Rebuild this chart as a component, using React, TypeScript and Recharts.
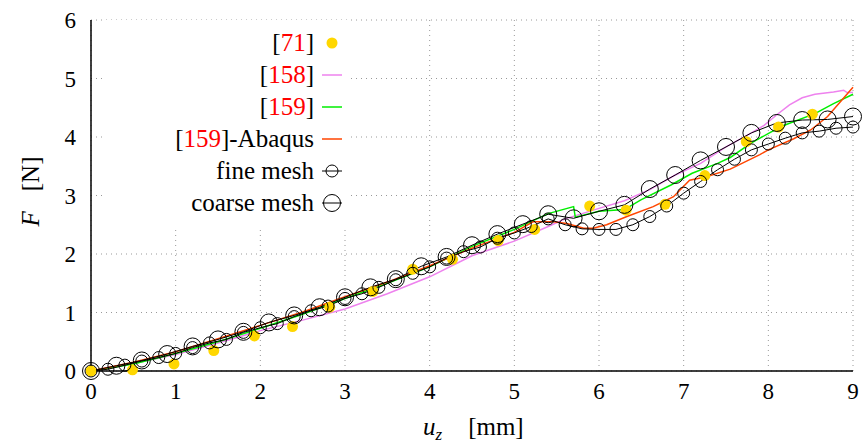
import React from 'react';
import {
  ComposedChart,
  Line,
  XAxis,
  YAxis,
  CartesianGrid,
  Legend,
  Label,
} from 'recharts';

// [71] experiment points
const ref71 = [
  { x: 0, y: 0 }, { x: 0.49, y: 0.02 }, { x: 0.98, y: 0.12 }, { x: 1.45, y: 0.35 },
  { x: 1.93, y: 0.6 }, { x: 2.38, y: 0.76 }, { x: 2.82, y: 1.09 }, { x: 3.33, y: 1.36 },
  { x: 3.8, y: 1.74 }, { x: 4.27, y: 1.91 }, { x: 4.81, y: 2.23 }, { x: 5.24, y: 2.42 },
  { x: 5.89, y: 2.82 }, { x: 6.32, y: 2.75 }, { x: 6.78, y: 2.85 }, { x: 7.25, y: 3.34 },
  { x: 7.74, y: 3.92 }, { x: 8.12, y: 4.17 }, { x: 8.52, y: 4.39 },
];

const ref158 = [
  { x: 0, y: 0 }, { x: 0.5, y: 0.13 }, { x: 1, y: 0.28 }, { x: 1.5, y: 0.48 },
  { x: 2, y: 0.69 }, { x: 2.5, y: 0.87 }, { x: 3, y: 1.06 }, { x: 3.5, y: 1.32 },
  { x: 4, y: 1.61 }, { x: 4.5, y: 1.97 }, { x: 5, y: 2.22 }, { x: 5.4, y: 2.47 },
  { x: 5.6, y: 2.6 }, { x: 6.0, y: 2.78 }, { x: 6.3, y: 2.91 }, { x: 6.6, y: 3.1 },
  { x: 6.9, y: 3.35 }, { x: 7.2, y: 3.55 }, { x: 7.5, y: 3.83 }, { x: 7.8, y: 4.07 },
  { x: 7.95, y: 4.2 }, { x: 8.1, y: 4.38 }, { x: 8.25, y: 4.55 }, { x: 8.4, y: 4.67 },
  { x: 8.55, y: 4.73 }, { x: 8.77, y: 4.77 }, { x: 8.89, y: 4.8 }, { x: 8.93, y: 4.76 },
  { x: 9.0, y: 4.76 },
];

const ref159 = [
  { x: 0, y: 0 }, { x: 0.5, y: 0.12 }, { x: 1, y: 0.3 }, { x: 1.5, y: 0.5 },
  { x: 2, y: 0.73 }, { x: 2.5, y: 0.97 }, { x: 3, y: 1.24 }, { x: 3.5, y: 1.5 },
  { x: 4, y: 1.78 }, { x: 4.5, y: 2.13 }, { x: 5, y: 2.42 }, { x: 5.4, y: 2.69 },
  { x: 5.7, y: 2.81 }, { x: 5.72, y: 2.63 }, { x: 6.0, y: 2.73 }, { x: 6.3, y: 2.76 },
  { x: 6.5, y: 2.93 }, { x: 6.85, y: 3.18 }, { x: 7.1, y: 3.38 }, { x: 7.4, y: 3.55 },
  { x: 7.55, y: 3.65 }, { x: 7.8, y: 3.9 }, { x: 8.15, y: 4.18 }, { x: 8.55, y: 4.4 },
  { x: 8.77, y: 4.57 }, { x: 9.0, y: 4.73 },
];

const ref159Abaqus = [
  { x: 0, y: 0 }, { x: 0.5, y: 0.15 }, { x: 1, y: 0.33 }, { x: 1.5, y: 0.55 },
  { x: 2, y: 0.78 }, { x: 2.5, y: 1.01 }, { x: 3, y: 1.27 }, { x: 3.5, y: 1.52 },
  { x: 4, y: 1.8 }, { x: 4.5, y: 2.1 }, { x: 5, y: 2.37 }, { x: 5.22, y: 2.55 },
  { x: 5.46, y: 2.55 }, { x: 5.62, y: 2.52 }, { x: 5.82, y: 2.44 }, { x: 5.93, y: 2.44 },
  { x: 6.09, y: 2.5 }, { x: 6.33, y: 2.64 }, { x: 6.64, y: 2.81 }, { x: 6.88, y: 2.98 },
  { x: 7.07, y: 3.26 }, { x: 7.27, y: 3.32 }, { x: 7.55, y: 3.45 }, { x: 7.9, y: 3.7 },
  { x: 8.0, y: 3.78 }, { x: 8.3, y: 3.97 }, { x: 8.5, y: 4.12 }, { x: 8.7, y: 4.35 },
  { x: 9.0, y: 4.85 },
];

const fineMesh = [
  { x: 0, y: 0 }, { x: 0.2, y: 0.03 }, { x: 0.4, y: 0.1 }, { x: 0.6, y: 0.17 },
  { x: 0.8, y: 0.23 }, { x: 1.0, y: 0.3 }, { x: 1.2, y: 0.4 }, { x: 1.4, y: 0.48 },
  { x: 1.6, y: 0.54 }, { x: 1.8, y: 0.66 }, { x: 2.0, y: 0.74 }, { x: 2.2, y: 0.81 },
  { x: 2.4, y: 0.93 }, { x: 2.6, y: 1.03 }, { x: 2.8, y: 1.11 }, { x: 3.0, y: 1.24 },
  { x: 3.2, y: 1.32 }, { x: 3.4, y: 1.43 }, { x: 3.6, y: 1.56 }, { x: 3.8, y: 1.67 },
  { x: 4.0, y: 1.78 }, { x: 4.2, y: 1.93 }, { x: 4.4, y: 2.04 }, { x: 4.6, y: 2.12 },
  { x: 4.8, y: 2.27 }, { x: 5.0, y: 2.36 }, { x: 5.2, y: 2.47 }, { x: 5.4, y: 2.6 },
  { x: 5.6, y: 2.5 }, { x: 5.8, y: 2.43 }, { x: 6.0, y: 2.42 }, { x: 6.2, y: 2.42 },
  { x: 6.4, y: 2.5 }, { x: 6.6, y: 2.64 }, { x: 6.8, y: 2.82 }, { x: 7.0, y: 3.04 },
  { x: 7.2, y: 3.24 }, { x: 7.4, y: 3.44 }, { x: 7.6, y: 3.62 }, { x: 7.8, y: 3.78 },
  { x: 8.0, y: 3.88 }, { x: 8.2, y: 3.98 }, { x: 8.4, y: 4.07 }, { x: 8.6, y: 4.1 },
  { x: 8.8, y: 4.15 }, { x: 9.0, y: 4.17 },
];

const coarseMesh = [
  { x: 0, y: 0 }, { x: 0.3, y: 0.09 }, { x: 0.6, y: 0.18 }, { x: 0.9, y: 0.29 },
  { x: 1.2, y: 0.42 }, { x: 1.5, y: 0.54 }, { x: 1.8, y: 0.67 }, { x: 2.1, y: 0.83 },
  { x: 2.4, y: 0.95 }, { x: 2.7, y: 1.09 }, { x: 3.0, y: 1.26 }, { x: 3.3, y: 1.43 },
  { x: 3.6, y: 1.57 }, { x: 3.9, y: 1.79 }, { x: 4.2, y: 1.95 }, { x: 4.5, y: 2.15 },
  { x: 4.8, y: 2.34 }, { x: 5.1, y: 2.51 }, { x: 5.4, y: 2.68 }, { x: 5.7, y: 2.61 },
  { x: 6.0, y: 2.73 }, { x: 6.3, y: 2.84 }, { x: 6.6, y: 3.11 }, { x: 6.9, y: 3.35 },
  { x: 7.2, y: 3.6 }, { x: 7.5, y: 3.83 }, { x: 7.8, y: 4.07 }, { x: 8.1, y: 4.24 },
  { x: 8.4, y: 4.29 }, { x: 8.7, y: 4.3 }, { x: 9.0, y: 4.35 },
];

const xTicks = [0, 1, 2, 3, 4, 5, 6, 7, 8, 9];
const yTicks = [0, 1, 2, 3, 4, 5, 6];

const FONT = '"Liberation Serif", "DejaVu Serif", serif';
const RED = '#ff0000';

const Ref = ({ n }: { n: string }) => (
  <span>[<span style={{ color: RED }}>{n}</span>]</span>
);

const legendRows = [
  { key: '71', label: <Ref n="71" />, kind: 'dot', color: '#ffd700' },
  { key: '158', label: <Ref n="158" />, kind: 'line', color: '#ee82ee' },
  { key: '159', label: <Ref n="159" />, kind: 'line', color: '#00ee00' },
  { key: 'abq', label: <span><Ref n="159" />-Abaqus</span>, kind: 'line', color: '#ff4500' },
  { key: 'fine', label: 'fine mesh', kind: 'circle', r: 6, color: '#000' },
  { key: 'coarse', label: 'coarse mesh', kind: 'circle', r: 8.5, color: '#000' },
];

const renderLegend = () => (
  <div style={{ fontFamily: FONT, fontSize: 25, color: '#000', paddingTop: 7 }}>
    {legendRows.map((row) => (
      <div
        key={row.key}
        style={{ display: 'flex', justifyContent: 'flex-end', alignItems: 'center', height: 32, paddingRight: 5 }}
      >
        <span style={{ lineHeight: '32px' }}>{row.label}</span>
        <svg width={20} height={20} style={{ marginLeft: 8 }}>
          {row.kind === 'dot' && <circle cx={10} cy={10} r={5.5} fill={row.color} />}
          {row.kind === 'line' && <line x1={0} y1={10} x2={20} y2={10} stroke={row.color} strokeWidth={1.5} />}
          {row.kind === 'circle' && (
            <g>
              <line x1={0} y1={10} x2={20} y2={10} stroke="#000" strokeWidth={1} />
              <circle cx={10} cy={10} r={row.r} fill="none" stroke="#000" strokeWidth={1} />
            </g>
          )}
        </svg>
      </div>
    ))}
  </div>
);

const YLabel = (props: any) => {
  const { viewBox } = props;
  const cy = viewBox.y + viewBox.height / 2 - 4;
  return (
    <text
      x={30}
      y={cy}
      transform={`rotate(-90, 30, ${cy})`}
      textAnchor="middle"
      dominantBaseline="central"
      fontFamily={FONT}
      fontSize={25}
      fill="#000"
    >
      <tspan fontStyle="italic">F</tspan>
      <tspan dx={20}>[N]</tspan>
    </text>
  );
};

const XLabel = (props: any) => {
  const { viewBox } = props;
  const y = viewBox.y + 64;
  return (
    <text x={423} y={y} textAnchor="start" fontFamily={FONT} fontSize={25} fill="#000">
      <tspan fontStyle="italic">u</tspan>
      <tspan fontStyle="italic" fontSize={17} dy={5}>z</tspan>
      <tspan dx={26} dy={-5}>[mm]</tspan>
    </text>
  );
};

const tickStyle = { fontFamily: FONT, fontSize: 23, fill: '#000' };

export default function App() {
  return (
    <div style={{ position: 'absolute', left: 0, top: 0, width: 863, height: 445, background: '#fff' }}>
      <ComposedChart width={863} height={445} margin={{ top: 20, right: 10, left: 0, bottom: 0 }}>
        <CartesianGrid stroke="#999" strokeDasharray="1 4" />
        <XAxis
          type="number"
          dataKey="x"
          domain={[0, 9]}
          ticks={xTicks}
          allowDuplicatedCategory={false}
          height={74}
          tickLine={false}
          tickMargin={6}
          axisLine={{ stroke: '#000', strokeWidth: 1.5 }}
          tick={tickStyle}
        >
          <Label content={<XLabel />} />
        </XAxis>
        <YAxis
          type="number"
          dataKey="y"
          domain={[0, 6]}
          ticks={yTicks}
          width={91}
          tickLine={false}
          tickMargin={9}
          axisLine={{ stroke: '#000', strokeWidth: 1.5 }}
          tick={tickStyle}
        >
          <Label content={<YLabel />} />
        </YAxis>
        <Legend
          layout="vertical"
          align="center"
          verticalAlign="middle"
          content={renderLegend}
          wrapperStyle={{ position: 'absolute', left: 103, top: 20, width: 244, height: 210, background: '#fff' }}
        />
        <Line data={ref71} dataKey="y" name="[71]" stroke="none" isAnimationActive={false}
          dot={{ r: 5.5, fill: '#ffd700', stroke: 'none' }} activeDot={false} />
        <Line data={ref158} dataKey="y" name="[158]" stroke="#ee82ee" strokeWidth={1.5} dot={false} isAnimationActive={false} />
        <Line data={ref159} dataKey="y" name="[159]" stroke="#00ee00" strokeWidth={1.5} dot={false} isAnimationActive={false} />
        <Line data={ref159Abaqus} dataKey="y" name="[159]-Abaqus" stroke="#ff4500" strokeWidth={1.5} dot={false} isAnimationActive={false} />
        <Line data={fineMesh} dataKey="y" name="fine mesh" stroke="#000" strokeWidth={1} isAnimationActive={false}
          dot={{ r: 6, fill: 'none', stroke: '#000', strokeWidth: 1 }} activeDot={false} />
        <Line data={coarseMesh} dataKey="y" name="coarse mesh" stroke="#000" strokeWidth={1} isAnimationActive={false}
          dot={{ r: 8.5, fill: 'none', stroke: '#000', strokeWidth: 1 }} activeDot={false} />
      </ComposedChart>
    </div>
  );
}
